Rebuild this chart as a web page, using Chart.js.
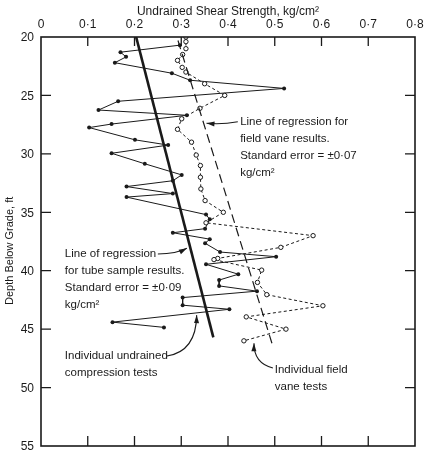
<!DOCTYPE html>
<html>
<head>
<meta charset="utf-8">
<script src="https://cdn.jsdelivr.net/npm/chart.js@4.4.1/dist/chart.umd.min.js"></script>
<style>
  body { margin: 0; background: #fff; }
  #wrap { width: 433px; height: 460px; position: relative; }
</style>
</head>
<body>
<div id="wrap"><canvas id="myChart"></canvas></div>
<script>
// individual undrained compression tests (tube samples)
let tubeDepth = [20.7, 21.3, 21.7, 22.2, 23.1, 23.7, 24.4, 25.5, 26.25, 26.7, 27.45, 27.75, 28.8, 29.25, 29.95,
  30.85, 31.8, 32.3, 32.8, 33.4, 33.7, 35.2, 35.6, 36.4, 36.75, 37.3, 37.65, 38.4, 38.8, 39.45,
  40.3, 40.8, 41.3, 41.75, 42.3, 42.95, 43.3, 44.4, 44.85];
let tubeStrength = [0.297, 0.170, 0.182, 0.158, 0.280, 0.319, 0.520, 0.165, 0.123, 0.312, 0.151, 0.103, 0.201, 0.272, 0.151,
  0.222, 0.301, 0.282, 0.183, 0.282, 0.183, 0.353, 0.361, 0.351, 0.282, 0.361, 0.351, 0.383, 0.503, 0.353,
  0.422, 0.381, 0.381, 0.462, 0.303, 0.303, 0.403, 0.153, 0.263];

// individual field vane tests
let vaneDepth = [20.0, 20.4, 21.0, 21.5, 22.0, 22.6, 23.0, 24.0, 25.0, 26.1, 27.0, 27.9, 29.0, 30.1, 31.0, 32.0,
  33.0, 34.0, 35.0, 35.9, 37.0, 38.0, 38.95, 39.05, 39.95, 41.0, 42.05, 43.0, 43.95, 45.0, 46.0];
let vaneStrength = [0.310, 0.310, 0.310, 0.303, 0.292, 0.302, 0.310, 0.350, 0.393, 0.340, 0.301, 0.292, 0.322, 0.332, 0.341, 0.341,
  0.342, 0.351, 0.390, 0.353, 0.582, 0.513, 0.378, 0.370, 0.472, 0.463, 0.483, 0.603, 0.439, 0.524, 0.434];

// regression lines
let tubeRegDepth = [20, 45.7];
let tubeRegStrength = [0.2035, 0.3686];
let vaneRegDepth = [20.3, 46.6];
let vaneRegStrength = [0.293, 0.497];

let xTicks = [0, 0.1, 0.2, 0.3, 0.4, 0.5, 0.6, 0.7, 0.8];
let yTicks = [20, 25, 30, 35, 40, 45, 50, 55];
let xTitle = "Undrained Shear Strength, kg/cm\u00b2";
let yTitle = "Depth Below Grade, ft";

let ink = "#1a1a1a";
let fontName = "'Liberation Sans', Arial, sans-serif";

function toPoints(xs, ys) {
  return xs.map((v, i) => ({ x: v, y: ys[i] }));
}

function fmtTick(v) {
  if (v === 0) return "0";
  return v.toFixed(1).replace(".", "\u00b7");
}

// notes in data coordinates
let notes = [
  { x: 0.426, y: 27.25, lines: ["Line of regression for", "field vane results.", "Standard error = \u00b10\u00b707", "kg/cm\u00b2"] },
  { x: 0.051, y: 38.55, lines: ["Line of regression", "for tube sample results.", "Standard error = \u00b10\u00b709", "kg/cm\u00b2"] },
  { x: 0.051, y: 47.25, lines: ["Individual undrained", "compression tests"] },
  { x: 0.5, y: 48.45, lines: ["Individual field", "vane tests"] },
];
let arrows = [
  [[0.421, 27.25], [0.387, 27.5], [0.354, 27.38]],
  [[0.250, 38.57], [0.290, 38.55], [0.312, 38.08]],
  [[0.2695, 47.3], [0.332, 46.9], [0.333, 43.8]],
  [[0.496, 48.32], [0.455, 47.9], [0.4556, 46.2]],
];

const framePlugin = {
  id: "frame",
  afterDraw(chart) {
    let ctx = chart.ctx;
    let a = chart.chartArea;
    let xs = chart.scales.x;
    let ys = chart.scales.y;
    ctx.save();
    ctx.strokeStyle = ink;
    ctx.lineWidth = 1.6;
    ctx.strokeRect(a.left, a.top, a.right - a.left, a.bottom - a.top);
    ctx.lineWidth = 1.3;
    ctx.beginPath();
    xTicks.slice(1, -1).forEach((v) => {
      let px = xs.getPixelForValue(v);
      ctx.moveTo(px, a.top); ctx.lineTo(px, a.top + 9);
      ctx.moveTo(px, a.bottom); ctx.lineTo(px, a.bottom - 10);
    });
    yTicks.slice(1, -1).forEach((v) => {
      let py = ys.getPixelForValue(v);
      ctx.moveTo(a.left, py); ctx.lineTo(a.left + 10, py);
      ctx.moveTo(a.right, py); ctx.lineTo(a.right - 10, py);
    });
    ctx.stroke();

    // tick labels and titles
    ctx.fillStyle = ink;
    ctx.font = "12px " + fontName;
    ctx.textBaseline = "middle";
    ctx.textAlign = "center";
    xTicks.forEach((v) => ctx.fillText(fmtTick(v), xs.getPixelForValue(v), a.top - 12));
    ctx.fillText(xTitle, (a.left + a.right) / 2, 12);
    ctx.textAlign = "right";
    yTicks.forEach((v) => ctx.fillText(String(v), a.left - 7, ys.getPixelForValue(v) + 1));
    ctx.save();
    ctx.translate(10, ys.getPixelForValue(38.3));
    ctx.rotate(-Math.PI / 2);
    ctx.textAlign = "center";
    ctx.font = "11px " + fontName;
    ctx.fillText(yTitle, 0, 0);
    ctx.restore();

    // notes
    ctx.font = "11.5px " + fontName;
    ctx.textAlign = "left";
    notes.forEach((n) => {
      let px = xs.getPixelForValue(n.x);
      let py = ys.getPixelForValue(n.y);
      n.lines.forEach((t, i) => ctx.fillText(t, px, py + i * 17));
    });

    // arrows
    ctx.lineWidth = 1.1;
    arrows.forEach((ar) => {
      let p = ar.map((q) => [xs.getPixelForValue(q[0]), ys.getPixelForValue(q[1])]);
      ctx.beginPath();
      ctx.moveTo(p[0][0], p[0][1]);
      ctx.quadraticCurveTo(p[1][0], p[1][1], p[2][0], p[2][1]);
      ctx.stroke();
      let ang = Math.atan2(p[2][1] - p[1][1], p[2][0] - p[1][0]);
      ctx.beginPath();
      ctx.moveTo(p[2][0], p[2][1]);
      ctx.lineTo(p[2][0] - 8 * Math.cos(ang) + 2.5 * Math.sin(ang), p[2][1] - 8 * Math.sin(ang) - 2.5 * Math.cos(ang));
      ctx.lineTo(p[2][0] - 8 * Math.cos(ang) - 2.5 * Math.sin(ang), p[2][1] - 8 * Math.sin(ang) + 2.5 * Math.cos(ang));
      ctx.closePath();
      ctx.fill();
    });
    ctx.restore();
  },
};

const config = {
  type: "scatter",
  data: {
    datasets: [
      {
        data: toPoints(tubeRegStrength, tubeRegDepth),
        showLine: true,
        borderColor: ink,
        borderWidth: 2.6,
        pointRadius: 0,
      },
      {
        data: toPoints(vaneRegStrength, vaneRegDepth),
        showLine: true,
        borderColor: ink,
        borderWidth: 1.2,
        borderDash: [9, 5],
        pointRadius: 0,
      },
      {
        data: toPoints(vaneStrength, vaneDepth),
        showLine: true,
        borderColor: ink,
        borderWidth: 1,
        borderDash: [3, 2.5],
        pointRadius: 2.2,
        pointBackgroundColor: "#fff",
        pointBorderColor: ink,
        pointBorderWidth: 1,
      },
      {
        data: toPoints(tubeStrength, tubeDepth),
        showLine: true,
        borderColor: ink,
        borderWidth: 1,
        pointRadius: 2,
        pointBackgroundColor: ink,
        pointBorderColor: ink,
        pointBorderWidth: 0,
      },
    ],
  },
  options: {
    responsive: true,
    maintainAspectRatio: false,
    animation: false,
    layout: { padding: { left: 41, right: 18, top: 37, bottom: 14 } },
    plugins: { legend: { display: false }, tooltip: { enabled: false } },
    scales: {
      x: { type: "linear", display: false, min: 0, max: 0.8 },
      y: { type: "linear", display: false, reverse: true, min: 20, max: 55 },
    },
  },
  plugins: [framePlugin],
};

let myChart = new Chart(document.querySelector("#myChart"), config);
</script>
</body>
</html>
